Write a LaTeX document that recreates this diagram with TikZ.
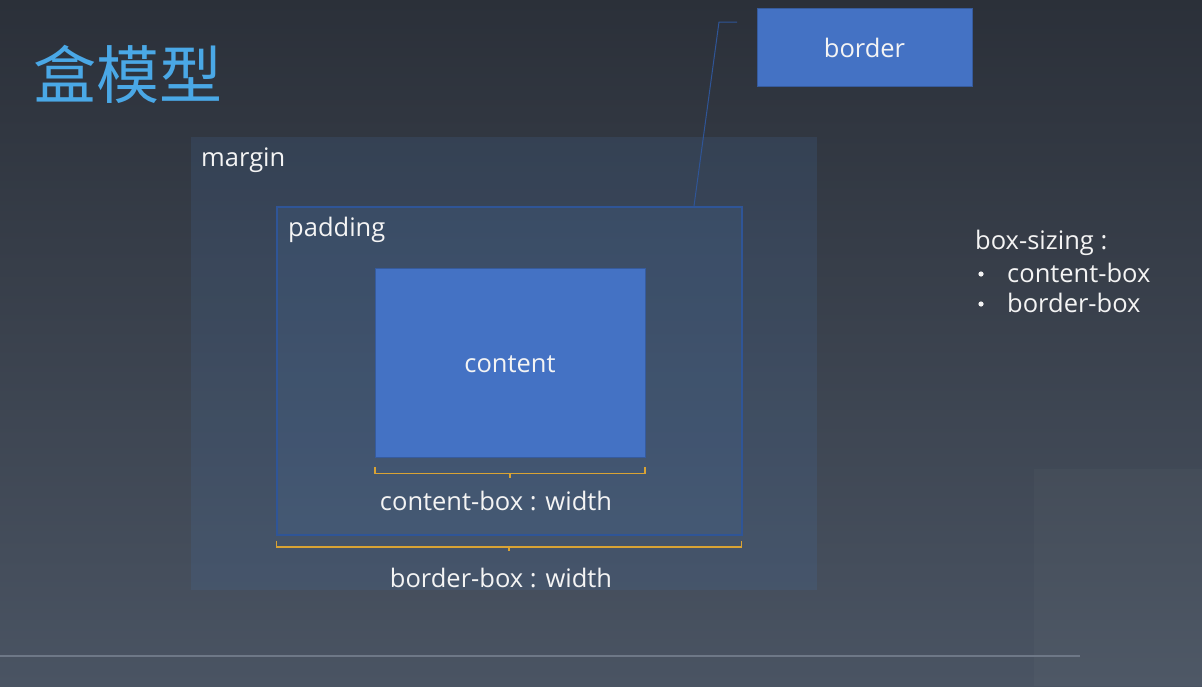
\documentclass[tikz,border=0pt]{standalone}
\usepackage{fontspec}
\setmainfont{Open Sans}
\newfontfamily\cjk{Noto Sans CJK SC}
\definecolor{bgtop}{HTML}{2B3039}
\definecolor{bgbot}{HTML}{4A5463}
\definecolor{boxblue}{HTML}{4472C4}
\definecolor{edgeblue}{HTML}{2F5597}
\definecolor{brace}{HTML}{D9A334}
\definecolor{titleblue}{HTML}{4AA8E6}
\definecolor{txt}{HTML}{F4F4F4}
\definecolor{tint}{HTML}{4A78B4}
\tikzset{
  layer/.style={fill=tint, fill opacity=0.16, inner sep=0pt, draw=none},
  solidbox/.style={fill=boxblue, inner sep=0pt, draw=boxblue!80!black, line width=0.6pt},
  lbl/.style={text=txt, font=\fontsize{25.5}{30}\selectfont, inner sep=0pt},
  bracket/.style={draw=brace, line width=1.6pt},
}
\begin{document}
\begin{tikzpicture}[x=1pt,y=-1pt]
\useasboundingbox (0,0) rectangle (1202,686);
\shade[top color=bgtop, bottom color=bgbot] (0,0) rectangle (1202,686);
\fill[white, opacity=0.025] (1034,469) rectangle (1202,686);
\draw[color={rgb,255:red,110;green,120;blue,135}, line width=1.2pt] (0,656) -- (1080,656);
% title
\node[anchor=west, text=titleblue, inner sep=0pt, font=\cjk\fontsize{63}{67}\selectfont] (title) at (33,74) {盒模型};
% margin
\node[layer, minimum width=626pt, minimum height=453pt] (margin) at (504,363.5) {};
\node[lbl, anchor=west] (marginlbl) at (201,160) {margin};
% padding
\node[layer, minimum width=465pt, minimum height=328pt, draw=edgeblue, draw opacity=1, line width=1.4pt] (padding) at (509.5,371) {};
\node[lbl, anchor=west] (paddinglbl) at (288,230) {padding};
% content
\node[solidbox, minimum width=270pt, minimum height=189pt] (content) at (510,362.5) {};
\node[lbl] (contentlbl) at (510,364) {content};
% brackets
\draw[bracket] (content.south west) ++(0,10) -- ++(0,6) -- ++(270,0) -- ++(0,-6);
\draw[bracket] (510,473) -- (510,478);
\node[lbl] (cbw) at (496,501) {content-box : width};
\draw[bracket] (padding.south west) ++(0,5) -- ++(0,6) -- ++(465,0) -- ++(0,-6);
\draw[bracket] (509,546) -- (509,551);
\node[lbl] (bbw) at (501,578) {border-box : width};
% border box
\node[solidbox, minimum width=215pt, minimum height=78pt] (border) at (864.5,47) {};
\node[lbl] (borderlbl) at (864.5,48) {border};
\coordinate (leadstart) at (737,22);
\coordinate (leadbend) at (719,22);
\coordinate (leadend) at (694,206);
\draw[edgeblue, line width=1pt] (leadstart) -- (leadbend) -- (leadend);
% box-sizing
\node[lbl, anchor=west, align=left] (bs) at (975,243) {box-sizing :};
\fill[txt] (981,274) circle (2.6pt);
\node[lbl, anchor=west] (i1) at (1007,273) {content-box};
\fill[txt] (981,304) circle (2.6pt);
\node[lbl, anchor=west] (i2) at (1007,303) {border-box};
\end{tikzpicture}
\end{document}
